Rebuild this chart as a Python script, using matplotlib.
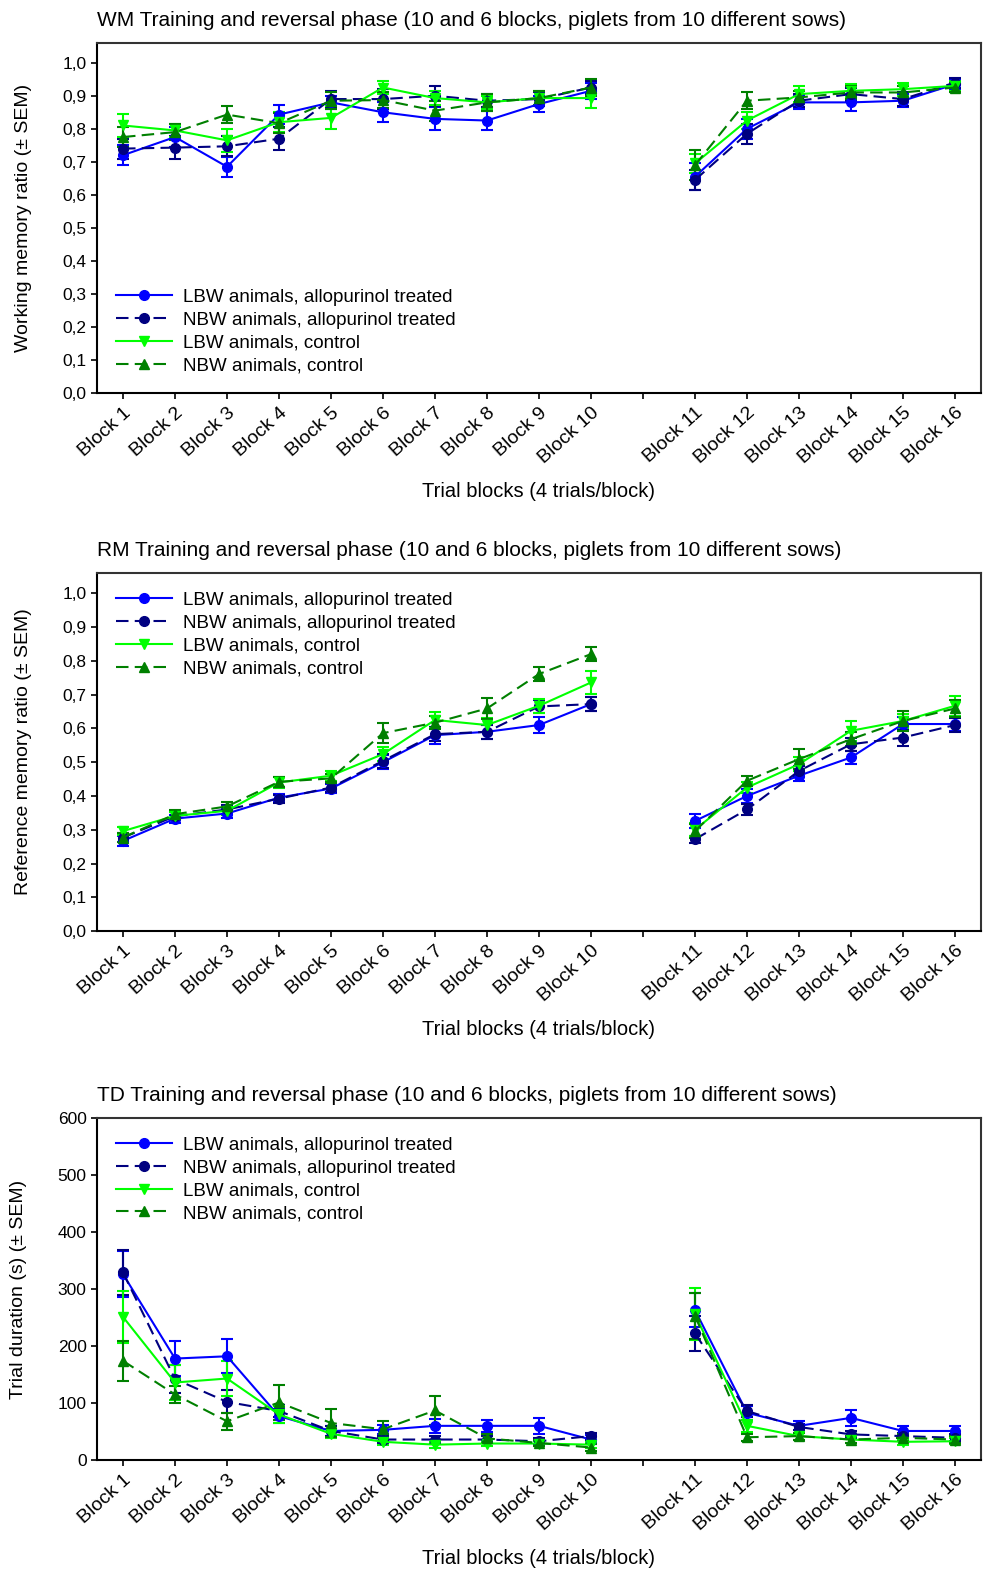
import matplotlib
matplotlib.use("Agg")
import matplotlib.pyplot as plt
import numpy as np
from matplotlib.ticker import FuncFormatter

plt.rcParams['font.family'] = ['Liberation Sans', 'DejaVu Sans']

# ---------------- data ----------------
block_labels = ["Block 1", "Block 2", "Block 3", "Block 4", "Block 5", "Block 6", "Block 7",
                "Block 8", "Block 9", "Block 10", "Block 11", "Block 12", "Block 13",
                "Block 14", "Block 15", "Block 16"]
series_names = ["LBW animals, allopurinol treated", "NBW animals, allopurinol treated",
                "LBW animals, control", "NBW animals, control"]

# Working memory (WM)
wm_lbw_allo = [0.72, 0.775, 0.685, 0.843, 0.88, 0.85, 0.83, 0.825, 0.875, 0.915,
               0.655, 0.80, 0.88, 0.88, 0.885, 0.935]
wm_nbw_allo = [0.74, 0.743, 0.747, 0.77, 0.89, 0.89, 0.90, 0.885, 0.89, 0.925,
               0.645, 0.785, 0.885, 0.905, 0.89, 0.94]
wm_lbw_ctrl = [0.81, 0.795, 0.765, 0.82, 0.833, 0.925, 0.893, 0.88, 0.893, 0.893,
               0.695, 0.825, 0.905, 0.915, 0.92, 0.93]
wm_nbw_ctrl = [0.775, 0.79, 0.843, 0.817, 0.885, 0.887, 0.855, 0.88, 0.893, 0.925,
               0.69, 0.885, 0.895, 0.91, 0.91, 0.925]
wm_err_lbw_allo = [0.03, 0.03, 0.03, 0.03, 0.02, 0.03, 0.035, 0.03, 0.025, 0.025,
                   0.04, 0.03, 0.02, 0.025, 0.02, 0.015]
wm_err_nbw_allo = [0.03, 0.035, 0.03, 0.035, 0.025, 0.03, 0.03, 0.02, 0.02, 0.02,
                   0.03, 0.03, 0.02, 0.02, 0.02, 0.015]
wm_err_lbw_ctrl = [0.035, 0.02, 0.035, 0.03, 0.035, 0.02, 0.02, 0.02, 0.02, 0.03,
                   0.03, 0.025, 0.025, 0.02, 0.02, 0.015]
wm_err_nbw_ctrl = [0.03, 0.025, 0.025, 0.03, 0.025, 0.025, 0.03, 0.025, 0.02, 0.025,
                   0.045, 0.025, 0.02, 0.02, 0.02, 0.015]

# Reference memory (RM)
rm_lbw_allo = [0.267, 0.333, 0.348, 0.395, 0.422, 0.50, 0.58, 0.59, 0.61, 0.672,
               0.326, 0.40, 0.46, 0.514, 0.613, 0.613]
rm_nbw_allo = [0.277, 0.34, 0.36, 0.392, 0.425, 0.504, 0.583, 0.59, 0.665, 0.672,
               0.272, 0.36, 0.474, 0.553, 0.573, 0.61]
rm_lbw_ctrl = [0.296, 0.341, 0.356, 0.44, 0.46, 0.524, 0.625, 0.61, 0.667, 0.736,
               0.30, 0.425, 0.494, 0.593, 0.622, 0.667]
rm_nbw_ctrl = [0.277, 0.346, 0.369, 0.442, 0.452, 0.586, 0.617, 0.659, 0.761, 0.82,
               0.296, 0.445, 0.509, 0.568, 0.622, 0.659]
rm_err_lbw_allo = [0.015, 0.012, 0.012, 0.012, 0.012, 0.02, 0.025, 0.02, 0.025, 0.02,
                   0.02, 0.02, 0.015, 0.02, 0.02, 0.02]
rm_err_nbw_allo = [0.012, 0.012, 0.012, 0.012, 0.012, 0.02, 0.02, 0.02, 0.02, 0.02,
                   0.01, 0.015, 0.015, 0.02, 0.025, 0.02]
rm_err_lbw_ctrl = [0.012, 0.012, 0.012, 0.015, 0.015, 0.02, 0.025, 0.02, 0.02, 0.035,
                   0.02, 0.015, 0.02, 0.03, 0.02, 0.03]
rm_err_nbw_ctrl = [0.012, 0.012, 0.012, 0.015, 0.012, 0.03, 0.02, 0.03, 0.02, 0.02,
                   0.02, 0.015, 0.03, 0.02, 0.03, 0.025]

# Trial duration (TD)
td_lbw_allo = [326, 178, 182, 77, 51, 53, 60, 60, 60, 36,
               263, 83, 60, 74, 51, 51]
td_nbw_allo = [329, 142, 102, 86, 51, 36, 36, 36, 33, 42,
               222, 86, 58, 45, 42, 39]
td_lbw_ctrl = [251, 136, 143, 80, 46, 32, 27, 29, 29, 27,
               256, 60, 42, 36, 32, 33]
td_nbw_ctrl = [174, 115, 68, 101, 65, 54, 87, 38, 30, 22,
               253, 40, 42, 36, 39, 36]
td_err_lbw_allo = [40, 30, 30, 12, 8, 8, 12, 10, 14, 8,
                   30, 12, 8, 14, 8, 8]
td_err_nbw_allo = [40, 25, 20, 10, 8, 6, 6, 6, 6, 6,
                   30, 10, 6, 6, 6, 6]
td_err_lbw_ctrl = [45, 30, 30, 15, 8, 6, 5, 5, 5, 5,
                   45, 10, 6, 6, 5, 5]
td_err_nbw_ctrl = [35, 15, 15, 30, 25, 15, 25, 8, 6, 6,
                   40, 6, 6, 6, 6, 6]

panels = [
    dict(title="WM Training and reversal phase (10 and 6 blocks, piglets from 10 different sows)",
         ylabel="Working memory ratio (± SEM)",
         vals=[wm_lbw_allo, wm_nbw_allo, wm_lbw_ctrl, wm_nbw_ctrl],
         errs=[wm_err_lbw_allo, wm_err_nbw_allo, wm_err_lbw_ctrl, wm_err_nbw_ctrl],
         ylim=(0, 1.06), yticks=np.round(np.arange(0, 1.01, 0.1), 1), ratio=True,
         legend_loc="lower left", rect=[0.0976, 0.7502, 0.8893, 0.2225]),
    dict(title="RM Training and reversal phase (10 and 6 blocks, piglets from 10 different sows)",
         ylabel="Reference memory ratio (± SEM)",
         vals=[rm_lbw_allo, rm_nbw_allo, rm_lbw_ctrl, rm_nbw_ctrl],
         errs=[rm_err_lbw_allo, rm_err_nbw_allo, rm_err_lbw_ctrl, rm_err_nbw_ctrl],
         ylim=(0, 1.06), yticks=np.round(np.arange(0, 1.01, 0.1), 1), ratio=True,
         legend_loc="upper left", rect=[0.0976, 0.4081, 0.8893, 0.2276]),
    dict(title="TD Training and reversal phase (10 and 6 blocks, piglets from 10 different sows)",
         ylabel="Trial duration (s) (± SEM)",
         vals=[td_lbw_allo, td_nbw_allo, td_lbw_ctrl, td_nbw_ctrl],
         errs=[td_err_lbw_allo, td_err_nbw_allo, td_err_lbw_ctrl, td_err_nbw_ctrl],
         ylim=(0, 600), yticks=np.arange(0, 601, 100), ratio=False,
         legend_loc="upper left", rect=[0.0976, 0.0718, 0.8893, 0.2175]),
]

colors = ["#0000FF", "#000080", "#00FF00", "#008000"]
styles = ["-", (0, (6, 3)), "-", (0, (6, 3))]
markers = ["o", "o", "v", "^"]

# x positions: blocks 1-10 at 1..10, gap at 11, blocks 11-16 at 12..17
xpos = np.array(list(range(1, 11)) + list(range(12, 18)))
segs = [slice(0, 10), slice(10, 16)]

fig = plt.figure(figsize=(9.94, 15.73), dpi=100)

for p in panels:
    ax = fig.add_axes(p["rect"])
    handles = []
    for i in range(4):
        v = np.array(p["vals"][i], dtype=float)
        e = np.array(p["errs"][i], dtype=float)
        for s in segs:
            ax.errorbar(xpos[s], v[s], yerr=e[s], color=colors[i], linestyle=styles[i],
                        linewidth=1.5, marker=markers[i], markersize=7, capsize=4,
                        elinewidth=1.5, capthick=1.5, zorder=3)
        h, = ax.plot([], [], color=colors[i], linestyle=styles[i], linewidth=1.5,
                     marker=markers[i], markersize=7)
        handles.append(h)
    ax.set_xlim(0.5, 17.5)
    ax.set_ylim(*p["ylim"])
    ax.set_yticks(p["yticks"])
    if p["ratio"]:
        ax.yaxis.set_major_formatter(FuncFormatter(lambda y, _: f"{y:.1f}".replace(".", ",")))
    ax.set_xticks(np.arange(1, 18))
    ax.set_xticklabels(block_labels[:10] + [""] + block_labels[10:],
                       rotation=42, ha="right", rotation_mode="anchor", fontsize=14)
    ax.tick_params(axis="both", direction="out", length=4, width=1.2)
    ax.tick_params(axis="y", labelsize=12.5)
    ax.tick_params(axis="x", pad=4)
    for sp in ax.spines.values():
        sp.set_linewidth(1.5)
    ax.spines["top"].set_color("#333333")
    ax.spines["right"].set_color("#333333")
    ax.set_title(p["title"], loc="left", fontsize=15, pad=12, x=0.0)
    ax.set_ylabel(p["ylabel"], fontsize=14, labelpad=22)
    ax.set_xlabel("Trial blocks (4 trials/block)", fontsize=14.5, labelpad=11)
    leg = ax.legend(handles, series_names, loc=p["legend_loc"], frameon=False,
                    fontsize=13.5, handlelength=3.0, labelspacing=0.3,
                    borderaxespad=0.6, handletextpad=0.6)

fig.savefig("out.png", dpi=100)
